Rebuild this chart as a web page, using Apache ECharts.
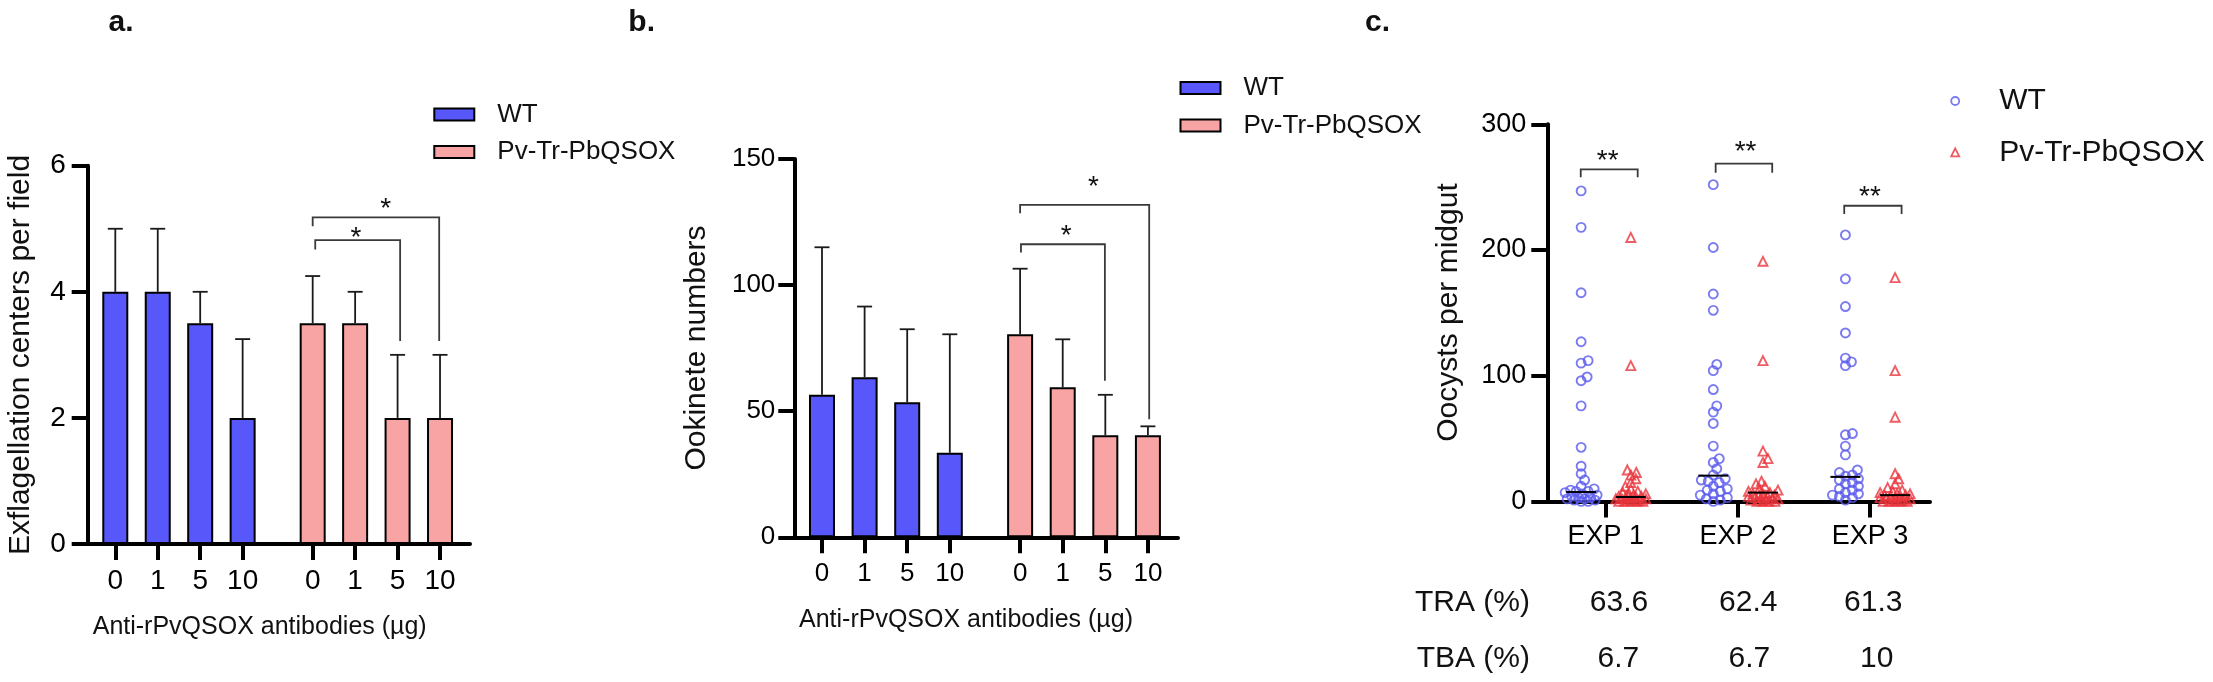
<!DOCTYPE html>
<html><head><meta charset="utf-8">
<script src="https://cdn.jsdelivr.net/npm/echarts@6/dist/echarts.min.js"></script>
<style>html,body{margin:0;padding:0;background:#fff}#c{width:2213px;height:682px}</style>
</head><body><div id="c"></div>
<script>
// ---------------- data ----------------
const doseLabels = ['0', '1', '5', '10'];
const groupNames = ['WT', 'Pv-Tr-PbQSOX'];

// panel a: exflagellation centers per field (mean, SD)
const exfWT = [4, 4, 3.5, 2];
const exfWTsd = [1, 1, 0.5, 1.25];
const exfPv = [3.5, 3.5, 2, 2];
const exfPvsd = [0.75, 0.5, 1, 1];
// brackets: [x from, x to, left leg end, bar height, right leg end, label x, label y]
const exfSig = [[4.65, 7.63, 5.04, 5.18, 3.22, 6.37, 5.41], [4.71, 6.71, 4.67, 4.82, 3.22, 5.67, 4.95]];
const exfSigLabels = ['*', '*'];

// panel b: ookinete numbers (mean, SD)
const ookWT = [56.5, 63.5, 53.5, 33.5];
const ookWTsd = [58.5, 28, 29, 47];
const ookPv = [80.5, 59.5, 40.5, 40.5];
const ookPvsd = [26, 19, 16, 3.5];
const ookSig = [[4.65, 7.68, 128.5, 131.8, 46.8, 6.37, 141.0], [4.67, 6.64, 112.9, 116.2, 62.1, 5.73, 121.6]];
const ookSigLabels = ['*', '*'];

// panel c: oocysts per midgut
const experiments = ['EXP 1', 'EXP 2', 'EXP 3'];
const ooWT1 = [247, 218, 166, 127, 112, 110, 99, 96, 76, 43, 28, 22, 17, 12, 10, 9, 8, 8, 7, 6, 5, 4, 3, 3, 2, 2, 1, 1, 0, 0];
const ooPv1 = [210, 108, 25, 23, 21, 18, 15, 12, 10, 8, 7, 6, 5, 5, 4, 4, 3, 3, 3, 2, 2, 2, 1, 1, 1, 0, 0, 0, 0, 0];
const ooWT2 = [252, 202, 165, 152, 109, 104, 89, 76, 71, 62, 44, 34, 31, 26, 21, 18, 17, 16, 15, 12, 10, 9, 8, 6, 5, 3, 2, 1, 0];
const ooPv2 = [191, 112, 40, 34, 31, 16, 14, 12, 10, 9, 8, 7, 6, 6, 5, 5, 4, 4, 3, 3, 2, 2, 1, 1, 1, 0, 0, 0, 0];
const ooWT3 = [212, 177, 155, 134, 114, 111, 108, 54, 53, 44, 37, 25, 23, 21, 20, 18, 17, 15, 14, 12, 10, 9, 7, 6, 5, 4, 3, 1];
const ooPv3 = [178, 104, 67, 22, 18, 14, 11, 9, 8, 7, 6, 6, 5, 5, 4, 4, 3, 3, 2, 2, 1, 1, 1, 0, 0, 0, 0, 0];
const ooWTmedian = [7.5, 20.5, 19.5];
const ooPvMedian = [3.5, 7, 5];
const ooSig = [[0.811, 1.242, 257.8, 264.2, 257.8, 1.015, 275.6], [1.832, 2.26, 261.5, 268.7, 261.5, 2.058, 282.2], [2.805, 3.239, 228.6, 235.2, 228.6, 3.0, 246.4]];
const ooSigLabels = ['**', '**', '**'];
const traLabel = 'TRA (%)';
const tbaLabel = 'TBA (%)';
const traValues = ['63.6', '62.4', '61.3'];
const tbaValues = ['6.7', '6.7', '10'];

// ---------------- layout / style ----------------
const FF = '"Liberation Sans", Arial, Helvetica, sans-serif';
const BLUE = '#5757FA', PINK = '#F9A4A4';
const DOT_BLUE = '#5A5AEE', DOT_RED = '#EA343C';
const G = [
  {left: 87.7, top: 165.7, width: 382.3, height: 378.3},
  {left: 794.3, top: 159, width: 383.7, height: 378.3},
  {left: 1547.3, top: 124.3, width: 382.7, height: 377.1}
];
const GAP = 1.65;
const pos = (g, i) => g * (3 + GAP) + i;
const barPositions = [0, 1, 2, 3].map(i => pos(0, i)).concat([0, 1, 2, 3].map(i => pos(1, i)));
const doseFmt = v => {
  const i = v < 4 ? Math.round(v) : Math.round(v - 3 - GAP);
  return doseLabels[i] !== undefined ? doseLabels[i] : '';
};
const XMIN = -0.65, XMAX = 8.356;
const CXMIN = 0.558, CXMAX = 3.454;
const WT_OFF = -0.186, PV_OFF = 0.19;

function barData(vals, g) { return vals.map((v, i) => [pos(g, i), v]); }
function errData(vals, sd, g) { return vals.map((v, i) => [pos(g, i), v, v + sd[i]]); }

function errRender(params, api) {
  const x = api.value(0), m = api.value(1), u = api.value(2);
  const p0 = api.coord([x, m]), p1 = api.coord([x, u]);
  const hw = 7.5;
  const st = {stroke: '#1a1a1a', lineWidth: 1.8};
  return {type: 'group', children: [
    {type: 'line', shape: {x1: p0[0], y1: p0[1], x2: p1[0], y2: p1[1]}, style: st},
    {type: 'line', shape: {x1: p1[0] - hw, y1: p1[1], x2: p1[0] + hw, y2: p1[1]}, style: st}
  ]};
}
function sigRender(labels) {
  return function (params, api) {
    const v = i => api.value(i);
    const a = api.coord([v(0), v(2)]), b = api.coord([v(0), v(3)]);
    const c = api.coord([v(1), v(3)]), d = api.coord([v(1), v(4)]);
    const s = api.coord([v(5), v(6)]);
    return {type: 'group', children: [
      {type: 'polyline', shape: {points: [a, b, c, d]}, style: {stroke: '#3a3a3a', lineWidth: 1.8, fill: 'none'}},
      {type: 'text', x: s[0], y: s[1] + 6, style: {text: labels[params.dataIndex], fontSize: 28, fontFamily: FF, fill: '#111', align: 'center', verticalAlign: 'middle'}}
    ]};
  };
}
function medRender(params, api) {
  const p = api.coord([api.value(0), api.value(1)]);
  return {type: 'line', shape: {x1: p[0] - 15, y1: p[1], x2: p[0] + 15, y2: p[1]}, style: {stroke: '#000', lineWidth: 2}};
}
// compact beeswarm layout (pixel-space collision avoidance, limited spread)
function swarm(vals, cx, pxX, pxY, d, maxOff) {
  const placed = [];
  const order = vals.map((v, i) => i).sort((a, b) => vals[a] - vals[b]);
  const out = new Array(vals.length);
  const cands = [0];
  for (let o = 0.5; o <= maxOff; o += 0.5) { cands.push(o, -o); }
  order.forEach(i => {
    const py = vals[i] * pxY;
    let best = null, bestScore = -1;
    for (const off of cands) {
      let md = Infinity;
      for (const p of placed) { md = Math.min(md, Math.hypot(p[0] - off, p[1] - py)); }
      if (md >= d) { best = off; break; }
      if (md > bestScore + 0.3) { bestScore = md; best = off; }
    }
    placed.push([best, py]);
    out[i] = [cx + best / pxX, vals[i]];
  });
  return out;
}
const cPxX = G[2].width / (CXMAX - CXMIN), cPxY = G[2].height / 300;
const wtSets = [ooWT1, ooWT2, ooWT3], pvSets = [ooPv1, ooPv2, ooPv3];
let wtPts = [], pvPts = [];
wtSets.forEach((s, k) => { wtPts = wtPts.concat(swarm(s, k + 1 + WT_OFF, cPxX, cPxY, 7, 16)); });
pvSets.forEach((s, k) => { pvPts = pvPts.concat(swarm(s, k + 1 + PV_OFF, cPxX, cPxY, 6, 15)); });
const medData = experiments.map((e, k) => [k + 1 + WT_OFF, ooWTmedian[k]]).concat(experiments.map((e, k) => [k + 1 + PV_OFF, ooPvMedian[k]]));

const axisLine = {show: true, onZero: false, lineStyle: {color: '#000', width: 4}};
const tickStyle = {color: '#000', width: 4};
function xBarAxis(gi) {
  return {gridIndex: gi, type: 'value', min: XMIN, max: XMAX, axisLine,
    axisTick: {show: true, length: 16, lineStyle: tickStyle, customValues: barPositions},
    axisLabel: {customValues: barPositions, formatter: doseFmt, fontSize: gi === 0 ? 28 : 26, fontFamily: FF, color: '#000', margin: gi === 0 ? 23 : 24},
    splitLine: {show: false}};
}
function yAxis(gi, max, interval, fs, margin) {
  return {gridIndex: gi, type: 'value', min: 0, max, interval, axisLine,
    axisTick: {show: true, length: 16, lineStyle: tickStyle},
    axisLabel: {fontSize: fs, fontFamily: FF, color: '#000', margin},
    splitLine: {show: false}};
}
const nm = n => n.split(':')[1];
const legTxt = fs => ({fontSize: fs, fontFamily: FF, color: '#111'});
function barLegend(prefix, left, top) {
  return {orient: 'vertical', left, top, itemWidth: 40, itemHeight: 12, itemGap: 11.5, selectedMode: false,
    formatter: nm, textStyle: Object.assign(legTxt(26), {padding: [0, 0, 0, 18]}),
    data: [
      {name: prefix + ':' + groupNames[0], icon: 'rect', itemStyle: {color: BLUE, borderColor: '#000', borderWidth: 2}},
      {name: prefix + ':' + groupNames[1], icon: 'rect', itemStyle: {color: PINK, borderColor: '#000', borderWidth: 2}}
    ]};
}
function txt(text, x, y, fs, opts) {
  return Object.assign({type: 'text', x, y, style: {text, fontSize: fs, fontFamily: FF, fill: '#111', align: 'center', verticalAlign: 'middle', fontWeight: (opts && opts.bold) ? 'bold' : 'normal'}}, opts && opts.rot ? {rotation: Math.PI / 2} : {});
}
function txtA(text, x, y, fs, align) {
  return {type: 'text', x, y, style: {text, fontSize: fs, fontFamily: FF, fill: '#111', align, verticalAlign: 'middle'}};
}
const traX = [1619, 1748.3, 1873.3], tbaX = [1618.3, 1749.3, 1876.7];

const option = {
  animation: false,
  backgroundColor: '#fff',
  grid: G.map(g => Object.assign({containLabel: false}, g)),
  xAxis: [xBarAxis(0), xBarAxis(1),
    {gridIndex: 2, type: 'value', min: CXMIN, max: CXMAX, axisLine,
      axisTick: {show: true, length: 16, lineStyle: tickStyle, customValues: [1, 2, 3]},
      axisLabel: {customValues: [1, 2, 3], formatter: v => experiments[Math.round(v) - 1] || '', fontSize: 27, fontFamily: FF, color: '#000', margin: 22},
      splitLine: {show: false}}],
  yAxis: [yAxis(0, 6, 2, 28, 22), yAxis(1, 150, 50, 26, 19), yAxis(2, 300, 100, 27, 21)],
  legend: [
    barLegend('a', 428.3, 96.5),
    barLegend('b', 1174.5, 70),
    {orient: 'vertical', left: 1945.3, top: 81, itemWidth: 8, itemHeight: 8, itemGap: 21.3, selectedMode: false,
      formatter: nm, textStyle: Object.assign(legTxt(30), {padding: [0, 0, 0, 35]}),
      data: [
        {name: 'c:' + groupNames[0], icon: 'circle', itemStyle: {color: 'rgba(0,0,0,0)', borderColor: DOT_BLUE, borderWidth: 1.8}},
        {name: 'c:' + groupNames[1], icon: 'triangle', itemStyle: {color: 'rgba(0,0,0,0)', borderColor: DOT_RED, borderWidth: 1.8}}
      ]}
  ],
  series: [
    {name: 'a:' + groupNames[0], type: 'bar', xAxisIndex: 0, yAxisIndex: 0, barWidth: 26, barGap: '-100%', data: barData(exfWT, 0), itemStyle: {color: BLUE, borderColor: '#000', borderWidth: 2}},
    {name: 'a:' + groupNames[1], type: 'bar', xAxisIndex: 0, yAxisIndex: 0, barWidth: 26, barGap: '-100%', data: barData(exfPv, 1), itemStyle: {color: PINK, borderColor: '#000', borderWidth: 2}},
    {type: 'custom', xAxisIndex: 0, yAxisIndex: 0, renderItem: errRender, data: errData(exfWT, exfWTsd, 0).concat(errData(exfPv, exfPvsd, 1)), encode: {x: 0, y: [1, 2]}, z: 3},
    {type: 'custom', xAxisIndex: 0, yAxisIndex: 0, renderItem: sigRender(exfSigLabels), data: exfSig, encode: {x: [0, 1], y: [2, 3, 4]}, z: 3},

    {name: 'b:' + groupNames[0], type: 'bar', xAxisIndex: 1, yAxisIndex: 1, barWidth: 26, barGap: '-100%', data: barData(ookWT, 0), itemStyle: {color: BLUE, borderColor: '#000', borderWidth: 2}},
    {name: 'b:' + groupNames[1], type: 'bar', xAxisIndex: 1, yAxisIndex: 1, barWidth: 26, barGap: '-100%', data: barData(ookPv, 1), itemStyle: {color: PINK, borderColor: '#000', borderWidth: 2}},
    {type: 'custom', xAxisIndex: 1, yAxisIndex: 1, renderItem: errRender, data: errData(ookWT, ookWTsd, 0).concat(errData(ookPv, ookPvsd, 1)), encode: {x: 0, y: [1, 2]}, z: 3},
    {type: 'custom', xAxisIndex: 1, yAxisIndex: 1, renderItem: sigRender(ookSigLabels), data: ookSig, encode: {x: [0, 1], y: [2, 3, 4]}, z: 3},

    {name: 'c:' + groupNames[0], type: 'scatter', xAxisIndex: 2, yAxisIndex: 2, symbol: 'circle', symbolSize: 9, data: wtPts, itemStyle: {color: 'rgba(0,0,0,0)', borderColor: DOT_BLUE, borderWidth: 1.9}},
    {name: 'c:' + groupNames[1], type: 'scatter', xAxisIndex: 2, yAxisIndex: 2, symbol: 'triangle', symbolSize: 9, data: pvPts, itemStyle: {color: 'rgba(0,0,0,0)', borderColor: DOT_RED, borderWidth: 1.9}},
    {type: 'custom', xAxisIndex: 2, yAxisIndex: 2, renderItem: medRender, data: medData, encode: {x: 0, y: 1}, z: 4},
    {type: 'custom', xAxisIndex: 2, yAxisIndex: 2, renderItem: sigRender(ooSigLabels), data: ooSig, encode: {x: [0, 1], y: [2, 3, 4]}, z: 3}
  ],
  graphic: [
    txt('a.', 121, 23, 30, {bold: true}),
    txt('b.', 641.7, 23, 30, {bold: true}),
    txt('c.', 1377.5, 23, 30, {bold: true}),
    txt('Exflagellation centers per field', 21, 355, 30, {rot: true}),
    txt('Ookinete numbers', 697, 348, 30, {rot: true}),
    txt('Oocysts per midgut', 1448.3, 312.5, 30, {rot: true}),
    txt('Anti-rPvQSOX antibodies (\u00b5g)', 259.7, 627, 25),
    txt('Anti-rPvQSOX antibodies (\u00b5g)', 966, 620, 25),
    txtA(traLabel, 1530, 602.5, 30, 'right'),
    txtA(tbaLabel, 1530, 658.3, 30, 'right')
  ].concat(traValues.map((t, i) => txt(t, traX[i], 602.5, 30)))
   .concat(tbaValues.map((t, i) => txt(t, tbaX[i], 658.3, 30)))
};
const chart = echarts.init(document.getElementById('c'), null, {renderer: 'canvas'});
chart.setOption(option);
</script></body></html>
